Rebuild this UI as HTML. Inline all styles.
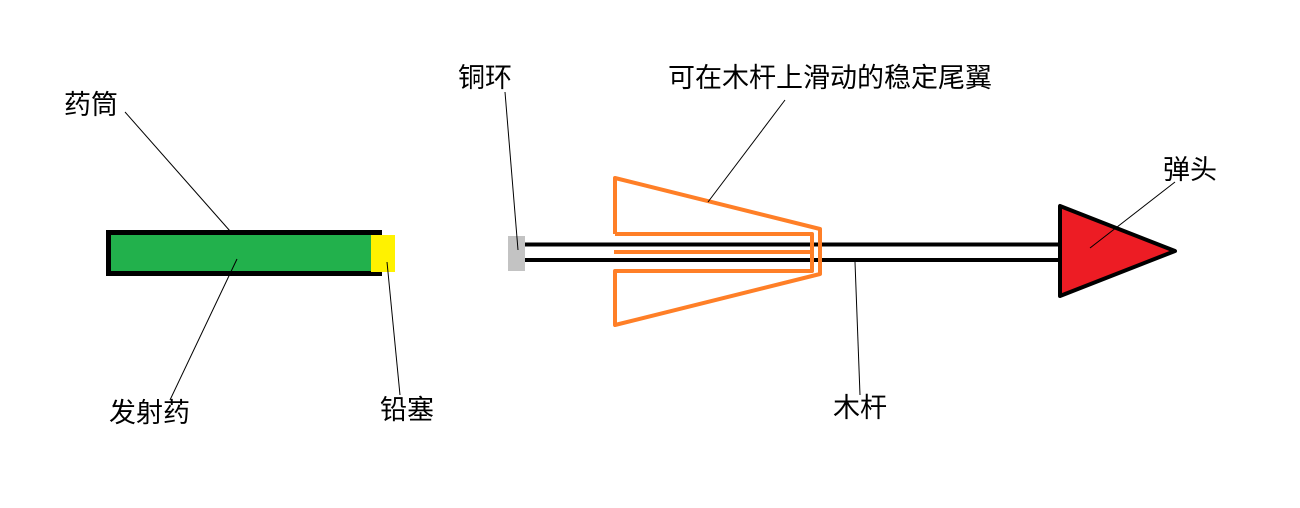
<!DOCTYPE html>
<html><head><meta charset="utf-8"><style>
body{margin:0;background:#fff;}
svg text{font-family:"Liberation Sans","Noto Sans CJK SC",sans-serif;font-size:27px;fill:#000;}
</style></head><body>
<svg width="1300" height="503" xmlns="http://www.w3.org/2000/svg">
<rect x="108.5" y="232.5" width="271" height="41" fill="#22b14c" stroke="#000" stroke-width="5"/>
<rect x="371" y="235" width="24" height="37" fill="#fff200"/>
<line x1="525" y1="244.5" x2="1060" y2="244.5" stroke="#000" stroke-width="4"/>
<line x1="525" y1="260" x2="1060" y2="260" stroke="#000" stroke-width="4"/>
<rect x="508" y="236" width="17" height="35" fill="#c3c3c3"/>
<g fill="none" stroke="#ff7f27" stroke-width="4" stroke-linejoin="round">
<polyline points="615,234 615,178 820,229 820,274 615,325 615,271 812,271 812,234 615,234"/>
<line x1="614" y1="252" x2="812" y2="252"/>
</g>
<polygon points="1060,206 1060,296 1175,251" fill="#ed1c24" stroke="#000" stroke-width="4" stroke-linejoin="round"/>
<g stroke="#000" stroke-width="1">
<line x1="125" y1="112" x2="230" y2="231"/>
<line x1="237" y1="259" x2="170" y2="400"/>
<line x1="387" y1="262" x2="400" y2="395"/>
<line x1="505" y1="92" x2="518" y2="250"/>
<line x1="785" y1="100" x2="708" y2="202"/>
<line x1="1175" y1="182" x2="1090" y2="248"/>
<line x1="855" y1="262" x2="860" y2="395"/>
</g>
<text x="64" y="114">药筒</text>
<text x="109" y="422">发射药</text>
<text x="380" y="419">铅塞</text>
<text x="458" y="87">铜环</text>
<text x="668" y="87">可在木杆上滑动的稳定尾翼</text>
<text x="1163" y="179">弹头</text>
<text x="833" y="417">木杆</text>
</svg>
</body></html>
